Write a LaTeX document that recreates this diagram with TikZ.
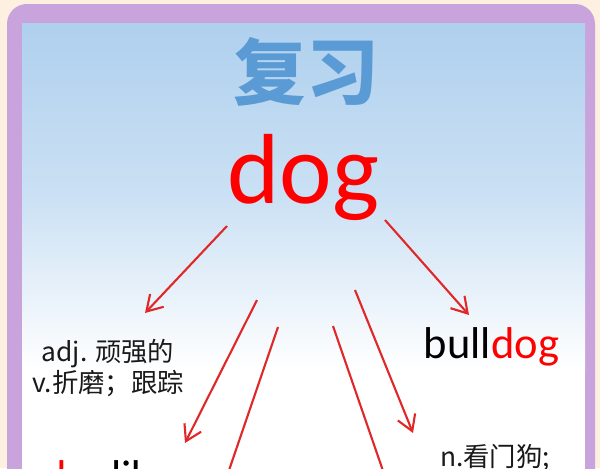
\documentclass[tikz,border=0pt]{standalone}
\usepackage{fontspec}
\usetikzlibrary{arrows.meta}
\setmainfont{Carlito}
\newfontfamily\cjk{Noto Sans CJK SC}
\definecolor{cream}{HTML}{FDF0E0}
\definecolor{lilac}{HTML}{C9A3DC}
\definecolor{skyblue}{HTML}{AFD0EE}
\definecolor{titleblue}{HTML}{5B9BD5}
\definecolor{arrowred}{HTML}{E02828}
\def\fsz#1#2{\fontsize{#1}{#2}\selectfont}
\tikzset{redarrow/.style={draw=arrowred, line width=1.8pt, -{Straight Barb[length=4.6mm,width=5.6mm]}}}

\begin{document}
\begin{tikzpicture}[x=0.03cm, y=-0.03cm]
			%%%%% START %%%%%
			
			\useasboundingbox (0, 0) rectangle (600, 468);
			\clip (0, 0) rectangle (600, 468);
			\fill[cream] (0, 0) rectangle (600, 468);
			
			\fill[lilac, rounded corners=17pt] (7, 4) rectangle (595, 540);
			\shade[top color=skyblue, bottom color=white, middle color=skyblue!65!white] (22, 23) rectangle (585, 370);
			\fill[white] (22, 370) rectangle (585, 540);
			
			\node[text=titleblue, font=\cjk\bfseries\fsz{62}{62}] (title) at (306, 72) {复习};
			\node[text=red, anchor=base, font=\fsz{85}{85}] (dog) at (303.5, 203) {dog};
			
			\node[text=black!90, align=center, font=\cjk\fsz{22.5}{27}] (meaning) at (108, 368) {adj. 顽强的\\v.折磨；跟踪};
			\node[anchor=base, font=\fsz{38}{38}] (bulldog) at (491.5, 358) {bull\textcolor{red}{dog}};
			\node[anchor=base, font=\fsz{38}{38}] (doglike) at (108, 491) {\textcolor{red}{dog}like};
			\node[text=black!90, font=\cjk\fsz{22.5}{27}] (watchdog) at (495, 458) {n.看门狗;};
			
			\coordinate (a1s) at (227, 226);
			\coordinate (a1e) at (145, 313);
			\coordinate (a2s) at (385, 220);
			\coordinate (a2e) at (469, 315);
			\coordinate (a3s) at (257, 300);
			\coordinate (a3e) at (185, 443);
			\coordinate (a4s) at (278, 327);
			\coordinate (a4e) at (212, 520);
			\coordinate (a5s) at (333, 326);
			\coordinate (a5e) at (400, 520);
			\coordinate (a6s) at (355, 290);
			\coordinate (a6e) at (413, 433);
			
			\draw[redarrow] (a1s) -- (a1e);
			\draw[redarrow] (a2s) -- (a2e);
			\draw[redarrow] (a3s) -- (a3e);
			\draw[redarrow] (a4s) -- (a4e);
			\draw[redarrow] (a5s) -- (a5e);
			\draw[redarrow] (a6s) -- (a6e);
			
			%%%%% END %%%%%
\end{tikzpicture}
\end{document}
